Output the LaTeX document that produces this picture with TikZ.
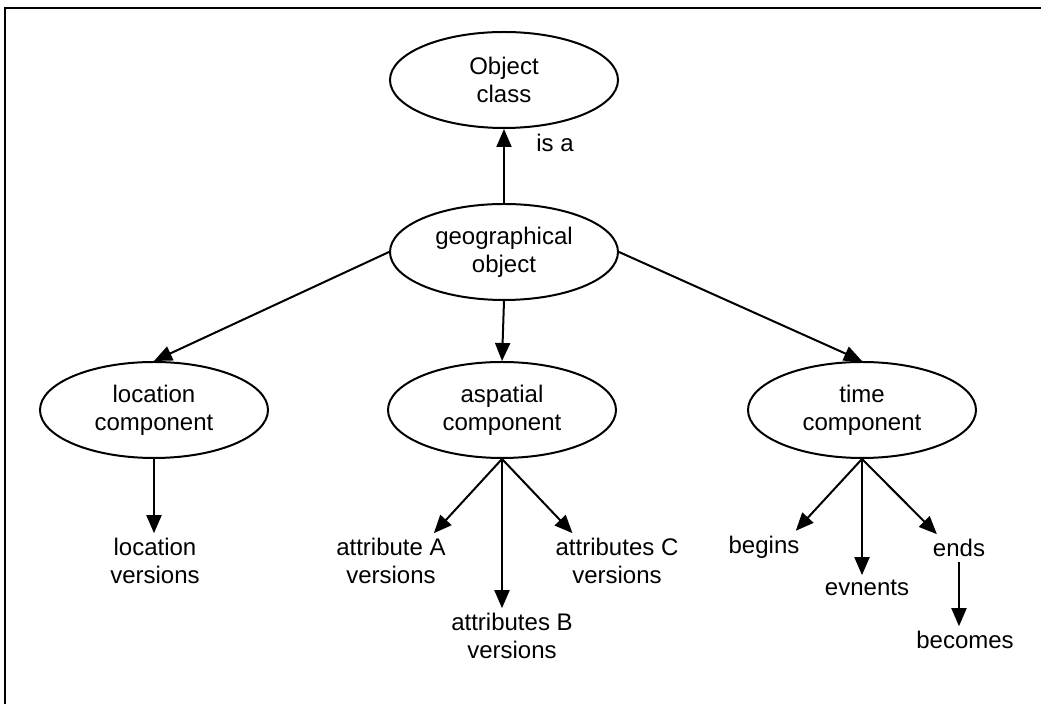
\documentclass[tikz,border=0pt]{standalone}
\usepackage{fontspec}
\setmainfont{Liberation Sans}
\usetikzlibrary{shapes.geometric,arrows.meta}
\begin{document}
\begin{tikzpicture}[x=0.5pt, y=-0.5pt, line width=1pt,
  every node/.style={font=\fontsize{12}{14}\selectfont, align=center},
  comp/.style={ellipse, draw, line width=1pt, minimum width=114pt, minimum height=48pt, inner sep=0pt},
  leaf/.style={inner sep=2pt},
  arr/.style={-{Triangle[length=9pt,width=7.5pt]}}]
  \useasboundingbox (0,0) rectangle (1041,704);
  % frame (top and left edge only)
  \draw[line width=1pt] (5,704) -- (5,8) -- (1041,8);
  % ellipses
  \node[comp] (OC) at (504,80) {Object\\class};
  \node[comp] (GO) at (504,252) {geographical\\object};
  \node[comp] (LC) at (154,410) {location\\component};
  \node[comp] (AC) at (502,410) {aspatial\\component};
  \node[comp] (TC) at (862,410) {time\\component};
  % leaves
  \node[leaf] (LV) at (155,561) {location\\versions};
  \node[leaf] (AV) at (391,561) {attribute A\\versions};
  \node[leaf] (BV) at (512,636) {attributes B\\versions};
  \node[leaf] (CV) at (617,561) {attributes C\\versions};
  \node[leaf] (BG) at (764,547) {begins};
  \node[leaf] (EV) at (867,588) {evnents};
  \node[leaf] (EN) at (959,548) {ends};
  \node[leaf] (BC) at (965,640) {becomes};
  \node (ISA) at (555,143) {is a};
  % arrows
  \draw[arr] (GO.north) -- (OC.south);
  \draw[arr] (GO.west) -- (LC.north);
  \draw[arr] (GO.south) -- (AC.north);
  \draw[arr] (GO.east) -- (TC.north);
  \draw[arr] (LC.south) -- (LC.south |- LV.north);
  \draw[arr] (AC.south) -- (AV.33);
  \draw[arr] (AC.south) -- (AC.south |- BV.north);
  \draw[arr] (AC.south) -- (CV.148);
  \draw[arr] (TC.south) -- (BG.27);
  \draw[arr] (TC.south) -- (TC.south |- EV.north);
  \draw[arr] (TC.south) -- (EN.148);
  \draw[arr] (EN.south) -- (EN.south |- BC.north);
\end{tikzpicture}
\end{document}
